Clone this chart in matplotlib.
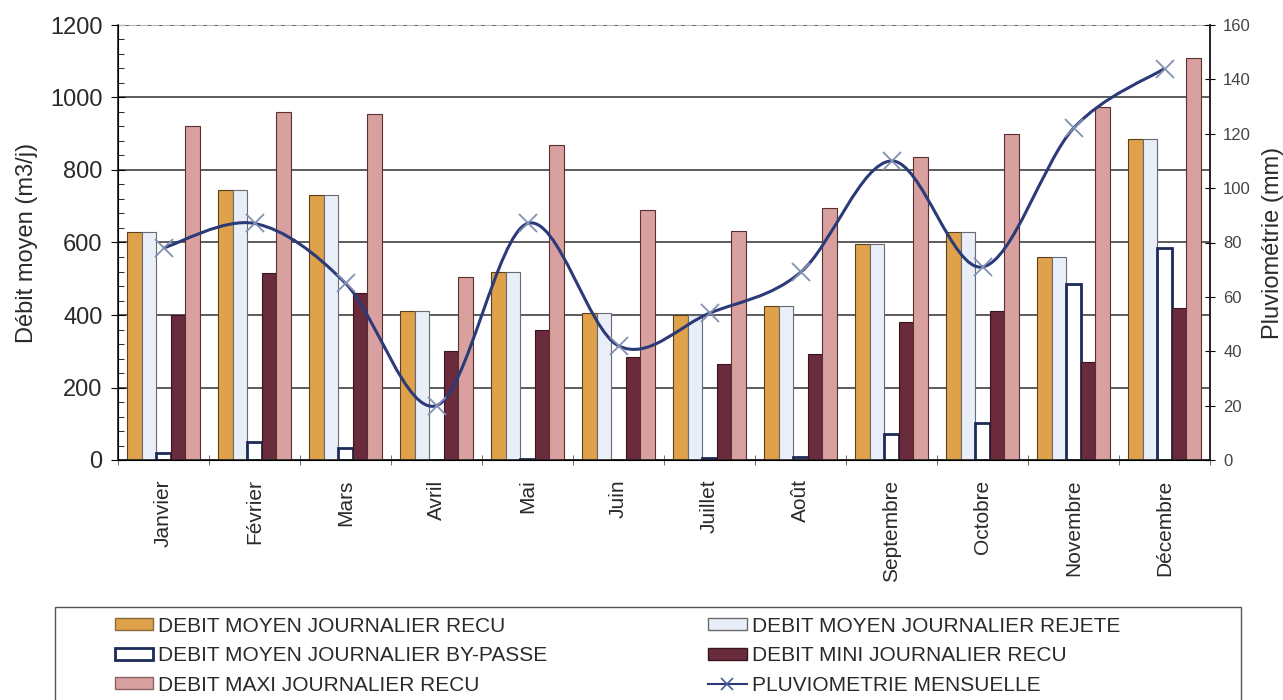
import matplotlib
matplotlib.use("Agg")
import matplotlib.pyplot as plt
import numpy as np
from matplotlib.patches import Patch, PathPatch, Rectangle
from matplotlib.lines import Line2D
from matplotlib.path import Path
from matplotlib.ticker import MultipleLocator

plt.rcParams['font.family'] = ['Liberation Sans', 'DejaVu Sans']

# donnees
mois = ["Janvier", "Février", "Mars", "Avril", "Mai", "Juin", "Juillet",
        "Août", "Septembre", "Octobre", "Novembre", "Décembre"]
debit_recu = [630, 745, 730, 410, 520, 405, 400, 425, 595, 630, 560, 885]
debit_rejete = [630, 745, 730, 410, 520, 405, 400, 425, 595, 630, 560, 885]
debit_bypass = [20, 50, 32, 0, 4, 0, 5, 8, 72, 102, 485, 585]
debit_mini = [400, 515, 460, 300, 360, 285, 265, 292, 380, 410, 270, 420]
debit_maxi = [920, 960, 955, 505, 870, 690, 632, 695, 835, 900, 975, 1110]
pluvio = [78, 87, 65, 20, 87, 42, 54, 69, 110, 71, 122, 144]

labels = ["DEBIT MOYEN JOURNALIER RECU", "DEBIT MOYEN JOURNALIER REJETE",
          "DEBIT MOYEN JOURNALIER BY-PASSE", "DEBIT MINI JOURNALIER RECU",
          "DEBIT MAXI JOURNALIER RECU", "PLUVIOMETRIE MENSUELLE"]

c_recu = "#DFA24A"
c_rejete = "#E9EFF8"
c_bypass = "white"
c_mini = "#6A2B3C"
c_maxi = "#D9A0A0"
c_line = "#2B3A78"
c_text = "#2a2a2a"

fig = plt.figure(figsize=(12.83, 7.0), dpi=100)
ax = fig.add_axes([118/1283, (700-460)/700, (1210-118)/1283, (460-25)/700])
ax2 = ax.twinx()

x = np.arange(len(mois))
w = 0.16
series = [(debit_recu, c_recu, "#5a4020", 0.8),
          (debit_rejete, c_rejete, "#6a6a70", 0.8),
          (debit_bypass, c_bypass, "#1c2a58", 2.0),
          (debit_mini, c_mini, "#3a1520", 0.8),
          (debit_maxi, c_maxi, "#5a3030", 0.8)]
for k, (vals, fc, ec, lw) in enumerate(series):
    ax.bar(x + (k - 2) * w, vals, width=w, color=fc, edgecolor=ec,
           linewidth=lw, zorder=2)

ax.set_xlim(-0.5, len(mois) - 0.5)
ax.set_ylim(0, 1200)
ax.yaxis.set_major_locator(MultipleLocator(200))
ax.yaxis.set_minor_locator(MultipleLocator(40))
ax.set_axisbelow(True)
ax.grid(axis='y', which='major', color='#303030', linewidth=1.1)
ax.set_xticks(x)
ax.set_xticklabels(mois, rotation=90, fontsize=15, color=c_text)
ax.set_xticks(np.arange(-0.5, len(mois)), minor=True)
ax.tick_params(axis='x', which='major', length=0, pad=14)
ax.tick_params(axis='x', which='minor', length=7, direction='inout', color='#555555')
ax.tick_params(axis='y', which='major', labelsize=17, length=10, direction='inout',
               labelcolor=c_text, pad=6)
ax.tick_params(axis='y', which='minor', length=4, direction='in')
ax.set_ylabel("Débit moyen (m3/j)", fontsize=17, color=c_text, labelpad=9)

ax.spines['top'].set_linestyle((0, (6, 4)))
ax.spines['top'].set_color('#bbbbbb')
for s in ('left', 'bottom', 'right'):
    ax.spines[s].set_color('#222222')
    ax.spines[s].set_linewidth(1.2)
ax2.spines['top'].set_visible(False)
ax2.spines['right'].set_color('#222222')
ax2.spines['right'].set_linewidth(1.2)

# courbe lissee (bezier) pour la pluviometrie
ax2.set_ylim(0, 160)
ax2.yaxis.set_major_locator(MultipleLocator(20))
ax2.tick_params(axis='y', labelsize=12, length=7, direction='inout',
                labelcolor='#444444', pad=6)
ax2.set_ylabel("Pluviométrie (mm)", fontsize=17, color=c_text, labelpad=8)

pts = np.column_stack([x, pluvio]).astype(float)
verts = [pts[0]]
codes = [Path.MOVETO]
n = len(pts)
for i in range(n - 1):
    p0 = pts[max(i - 1, 0)]
    p1 = pts[i]
    p2 = pts[i + 1]
    p3 = pts[min(i + 2, n - 1)]
    verts += [p1 + (p2 - p0) / 6, p2 - (p3 - p1) / 6, p2]
    codes += [Path.CURVE4] * 3
ax2.add_patch(PathPatch(Path(verts, codes), facecolor='none', edgecolor=c_line,
                        linewidth=2.2, zorder=4))
ax2.plot(x, pluvio, linestyle='none', marker='x', markersize=13, mew=1.3,
         color='#8290b4', zorder=5)

# legende
fig.patches.append(Rectangle((55/1283, -0.05), (1241-55)/1283, 0.05 + (700-607)/700,
                             transform=fig.transFigure, facecolor='none',
                             edgecolor='#555555', linewidth=1.0))
h = [Patch(facecolor=c_recu, edgecolor='#8a6a3a', label=labels[0]),
     Patch(facecolor=c_bypass, edgecolor='#1c2a58', linewidth=2, label=labels[2]),
     Patch(facecolor=c_maxi, edgecolor='#8a6060', label=labels[4]),
     Patch(facecolor=c_rejete, edgecolor='#6a6a70', label=labels[1]),
     Patch(facecolor=c_mini, edgecolor='#3a1520', label=labels[3]),
     Line2D([], [], color=c_line, marker='x', markersize=9, mew=1.2,
            markeredgecolor='#4a5a98', label=labels[5])]
fig.legend(handles=h, ncol=2, loc='upper left', bbox_to_anchor=(96/1283, 1 - 598/700),
           frameon=False, fontsize=15, handlelength=1.85, handleheight=0.5,
           handletextpad=0.25, labelspacing=0.5, columnspacing=7.7,
           labelcolor=c_text)

fig.savefig("out.png", dpi=100)
